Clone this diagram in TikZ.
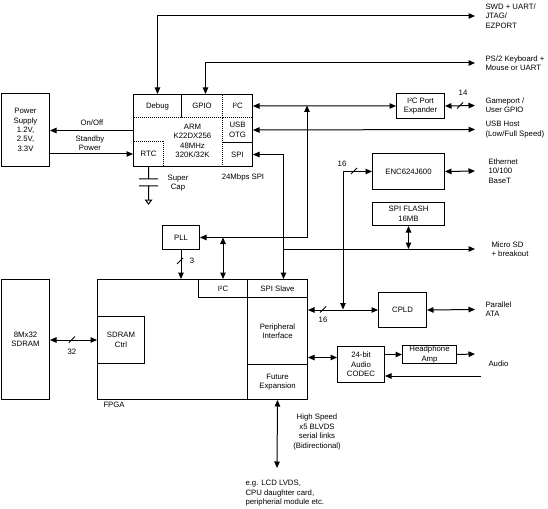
\documentclass[tikz,border=0pt]{standalone}
\usepackage{fontspec}
\setmainfont{Liberation Sans}
\usetikzlibrary{arrows.meta}
\tikzset{>={Triangle[length=6.5bp,width=5.5bp]}}
\tikzset{
  sz/.style 2 args={minimum width=#1bp, minimum height=#2bp},
  blk/.style={draw, anchor=north west, inner sep=0pt, align=center},
  cell/.style={blk, dash pattern=on 1bp off 1bp},
  txt/.style={inner sep=0pt, align=center},
  ext/.style={anchor=west, inner ysep=0pt, inner xsep=10bp, align=left},
}

\begin{document}
\begin{tikzpicture}[x={(1bp,0)}, y={(0,-1bp)}, line width=1bp,
  font=\fontsize{7.8}{9.4}\selectfont]
\useasboundingbox (0,0) rectangle (548,509);

% power supply and MCU
\node[blk, sz={48}{73}] (psu) at (1,93) {Power\\Supply\\1.2V,\\2.5V,\\3.3V};
\node[blk, sz={119}{72}] (arm) at (133,94) {};
\node[txt] (armtxt) at (192.5,141) {ARM\\K22DX256\\48MHz\\320K/32K};
\node[cell, sz={48}{23}] (debug) at (133,94) {Debug};
\node[cell, sz={41}{23}] (gpio) at (181,94) {GPIO};
\node[cell, sz={30}{23}] (i2c) at (222,94) {I²C};
\node[cell, sz={30}{25}] (usb) at (222,117) {USB\\OTG};
\node[cell, sz={30}{24}] (spi) at (222,142) {SPI};
\node[cell, sz={30}{25}] (rtc) at (133,141) {RTC};
\node[txt] (onoff) at (92,123) {On/Off};
\node[txt] (stby) at (90,143) {Standby\\Power};
\node[txt] (caplbl) at (178,183) {Super\\Cap};
\node[txt] (spilbl) at (243,177) {24Mbps SPI};

% FPGA and memory
\node[blk, sz={210}{120}] (fpga) at (97,279) {};
\node[txt, anchor=west] (fpgalbl) at (103,405) {FPGA};
\node[blk, sz={49}{18}] (fi2c) at (198,279) {I²C};
\node[blk, sz={60}{18}] (fspi) at (247,279) {SPI Slave};
\node[blk, sz={60}{67}] (fper) at (247,297) {Peripheral\\Interface};
\node[blk, sz={60}{35}] (ffut) at (247,364) {Future\\Expansion};
\node[blk, sz={47}{47}] (sdctl) at (97,316) {SDRAM\\Ctrl};
\node[blk, sz={48}{120}] (sdram) at (1,279) {8Mx32\\SDRAM};
\node[blk, sz={37}{24}] (pll) at (162,225) {PLL};

% peripherals
\node[blk, sz={48}{25}] (exp) at (396,93) {I²C Port\\Expander};
\node[blk, sz={72}{36}] (enc) at (372,153) {ENC624J600};
\node[blk, sz={72}{23}] (flash) at (372,202) {SPI FLASH\\16MB};
\node[blk, sz={48}{35}] (cpld) at (378,292) {CPLD};
\node[blk, sz={47}{36}] (codec) at (337,346) {24-bit\\Audio\\CODEC};
\node[blk, sz={54}{18}] (amp) at (402,345) {};
\node[txt] (amptxt) at (amp) {Headphone\\Amp};

% outside world
\node[ext] (swd) at (475,16) {SWD + UART/\\JTAG/\\EZPORT};
\node[ext] (ps2) at (475,63) {PS/2 Keyboard +\\Mouse or UART};
\node[ext] (game) at (475,105.5) {Gameport /\\User GPIO};
\node[ext] (usbh) at (475,129.5) {USB Host\\(Low/Full Speed)};
\node[ext, inner xsep=13bp] (eth) at (475,171) {Ethernet\\10/100\\BaseT};
\node[ext, inner xsep=16bp] (msd) at (475,249) {Micro SD\\+ breakout};
\node[ext] (pata) at (475,309.5) {Parallel\\ATA};
\node[ext, inner xsep=13bp] (audio) at (475,364) {Audio};
\node[txt] (hslbl) at (317,432) {High Speed\\x5 BLVDS\\serial links\\(Bidirectional)};
\node[txt, anchor=north west, align=left] (eglbl) at (245,480)
  {e.g. LCD LVDS,\\CPU daughter card,\\peripherial module etc.};

\coordinate (i2cj) at (307,105.5);
\coordinate (spij) at (283,249);
\coordinate (encj) at (343,309.5);
\coordinate (hsend) at (277,468);
\coordinate (audout) at (475,354);
\coordinate (audin) at (481,376);
\coordinate (cdin) at (337,357.5);

% connections
\draw[<->] (debug.north) |- (swd.west);
\draw[<->] ([xshift=3.5bp]gpio.north) |- (ps2.west);
\draw[<->] (i2c.east) -- (exp.west);
\draw[<->] (exp.east) -- (game.west);
\draw[<->] (pll.east) -| (i2cj);
\draw[<->] (fi2c.north) -- (fi2c.north |- pll.east);
\draw[<->] (usb.east) -- (usbh.west);
\draw[<->] (spi.east) -| ([xshift=6bp]fspi.north);
\draw[->] (spij) -- (msd.west);
\draw[<->] (flash.south) -- (flash.south |- spij);
\draw[<->] (enc.west) -| (encj);
\draw[<->] (enc.east) -- (eth.west);
\draw[<->] (cpld.west -| fper.east) -- (cpld.west);
\draw[<->] (cpld.east) -- (pata.west);
\draw[<->] (cdin -| fper.east) -- (cdin);
\draw[->] (codec.east |- amp.west) -- (amp.west);
\draw[->] (amp.east) -- (audout);
\draw[->] (audin) -- (audin -| codec.east);
\draw[->] (pll.south) -- (pll.south |- fpga.north);
\draw[<->] (sdram.east |- sdctl.west) -- (sdctl.west);
\draw[<->] (ffut.south) -- (hsend);
\draw[->] (arm.west) -- (arm.west -| psu.east);
\draw[->] (psu.east |- rtc.west) -- (rtc.west);

% bus widths
\draw (460,105.5) +(-3,3) -- +(3,-3) (354,171) +(-3,3) -- +(3,-3)
  (323,309.5) +(-3,3) -- +(3,-3) (180,261) +(-3,3) -- +(3,-3)
  (72,339.5) +(-3,3) -- +(3,-3);
\node[txt] at (463,93) {14};
\node[txt] at (342,164) {16};
\node[txt] at (323,320) {16};
\node[txt] at (192,261) {3};
\node[txt] at (72,352) {32};

% super cap
\draw (rtc.south) -- ++(0,12) ++(-9.5,0) -- ++(19,0) ++(0,7) -- ++(-19,0)
  ++(9.5,0) -- ++(0,14) ++(-3,0) -- ++(6,0) -- ++(-3,4) -- cycle;
\end{tikzpicture}
\end{document}
